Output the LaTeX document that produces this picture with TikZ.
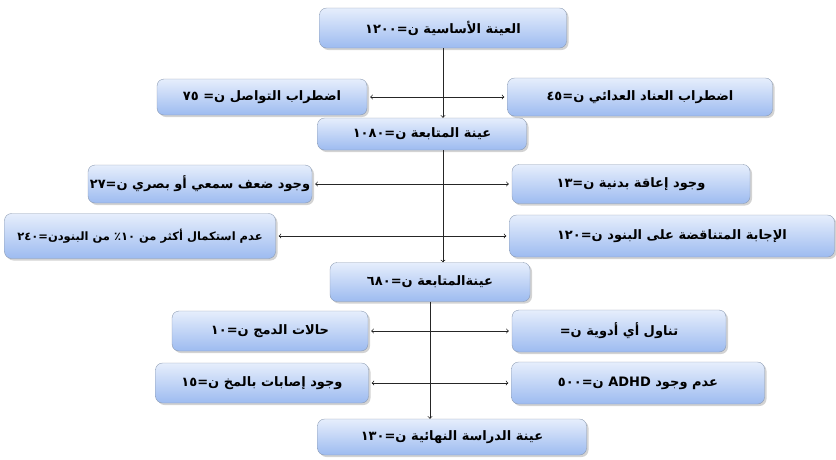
\documentclass[tikz,border=0pt]{standalone}
\usepackage{fontspec}
\newfontfamily\arabicfont[Script=Arabic]{DejaVu Sans}
\TeXXeTstate=1
\usepackage{tikz}
\usetikzlibrary{arrows, shadows, calc}

\definecolor{boxtop}{HTML}{E6EEFC}
\definecolor{boxbot}{HTML}{9DBBF0}
\definecolor{boxline}{HTML}{8C9BB2}

\newcommand{\rtl}[1]{\beginR #1\endR}

\tikzset{
    stagebox/.style={draw=boxline, rounded corners=7pt, top color=boxtop, bottom color=boxbot,
        drop shadow={shadow xshift=2pt, shadow yshift=-2pt, opacity=0.35},
        inner sep=0pt, align=center, font=\arabicfont\bfseries\fontsize{13}{15}\selectfont},
    link/.style={line width=0.8pt, black!85},
}

\begin{document}
\begin{tikzpicture}[x=1pt, y=-1pt, >=to]
        \useasboundingbox (0,0) rectangle (836,459);

        % main column
        \node[stagebox, minimum width=247, minimum height=40] (top) at (443,28) {\rtl{العينة الأساسية ن=١٢٠٠}};
        \node[stagebox, minimum width=209, minimum height=32] (fa) at (422,134) {\rtl{عينة المتابعة ن=١٠٨٠}};
        \node[stagebox, minimum width=200, minimum height=39] (fb) at (430,282) {\rtl{عينةالمتابعة ن=٦٨٠}};
        \node[stagebox, minimum width=269, minimum height=36] (fin) at (452,437) {\rtl{عينة الدراسة النهائية ن=١٣٠}};

        % excluded cases
        \node[stagebox, minimum width=210, minimum height=36] (l1) at (262,97) {\rtl{اضطراب التواصل ن= ٧٥}};
        \node[stagebox, minimum width=265, minimum height=38] (r1) at (640,97) {\rtl{اضطراب العناد العدائي ن=٤٥}};
        \node[stagebox, minimum width=224, minimum height=38] (l2) at (200,184) {\rtl{وجود ضعف سمعي أو بصري ن=٢٧}};
        \node[stagebox, minimum width=238, minimum height=39] (r2) at (631,184) {\rtl{وجود إعاقة بدنية ن=١٣}};
        \node[stagebox, minimum width=271, minimum height=45, font=\arabicfont\bfseries\fontsize{11.5}{14}\selectfont] (l3) at (140,236) {\rtl{عدم استكمال أكثر من ١٠٪ من البنودن=٢٤٠}};
        \node[stagebox, minimum width=325, minimum height=42] (r3) at (672,236) {\rtl{الإجابة المتناقضة على البنود ن=١٢٠}};
        \node[stagebox, minimum width=196, minimum height=40] (l4) at (270,331) {\rtl{حالات الدمج ن=١٠}};
        \node[stagebox, minimum width=214, minimum height=42] (r4) at (619,331) {\rtl{تناول أي أدوية ن=}};
        \node[stagebox, minimum width=213, minimum height=40] (l5) at (262,383) {\rtl{وجود إصابات بالمخ ن=١٥}};
        \node[stagebox, minimum width=253, minimum height=42] (r5) at (638,383) {\rtl{عدم وجود \beginL ADHD\endL{} ن=٥٠٠}};

        % down the column
        \draw[link, ->] (top.south) -- (top.south |- fa.north);
        \draw[link, ->] (fa.south -| top.south) -- (fb.north -| top.south);
        \draw[link, ->] (fb.south) -- (fb.south |- fin.north);

        % out to both sides
        \foreach \row in {1,...,5}{
            \draw[link, <->, shorten <=3pt, shorten >=3pt] (l\row.east) -- (r\row.west);
        }
    \end{tikzpicture}
\end{document}
